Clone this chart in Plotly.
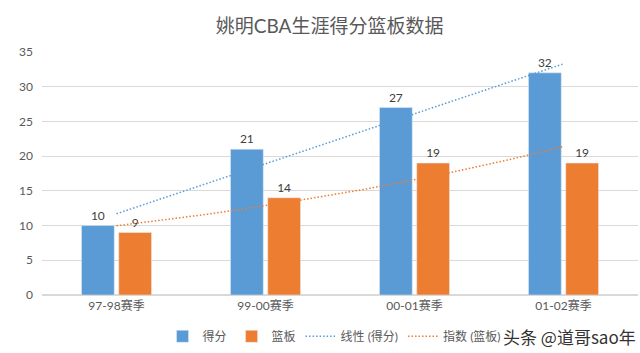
import numpy as np
import plotly.graph_objects as go

categories = ["97-98赛季", "99-00赛季", "00-01赛季", "01-02赛季"]
points = [10, 21, 27, 32]
rebounds = [9, 14, 19, 19]

FONT = "Lato, 'Noto Sans CJK SC', sans-serif"
BLUE = "#5b9bd5"
ORANGE = "#ed7d31"

x = np.arange(len(categories))

# Excel-style trendlines fitted from the data
lin = np.polyfit(x + 1, points, 1)
expf = np.polyfit(x + 1, np.log(rebounds), 1)
xt = np.linspace(0, len(categories) - 1, 60)
lin_y = lin[0] * (xt + 1) + lin[1]
exp_y = np.exp(expf[1]) * np.exp(expf[0] * (xt + 1))

fig = go.Figure()
fig.add_trace(go.Bar(x=x, y=points, name="得分", marker_color=BLUE,
                     text=points, textposition="outside",
                     textfont=dict(size=12, color="#404040"), cliponaxis=False))
fig.add_trace(go.Bar(x=x, y=rebounds, name="篮板", marker_color=ORANGE,
                     text=rebounds, textposition="outside",
                     textfont=dict(size=12, color="#404040"), cliponaxis=False))
fig.add_trace(go.Scatter(x=xt, y=lin_y, mode="lines", name="线性 (得分)",
                         line=dict(color=BLUE, width=1.5, dash="1.5px,2px")))
fig.add_trace(go.Scatter(x=xt, y=exp_y, mode="lines", name="指数 (篮板)",
                         line=dict(color=ORANGE, width=1.5, dash="1.5px,2px")))

fig.update_layout(
    width=640, height=353,
    margin=dict(l=42, r=2, t=52, b=56),
    paper_bgcolor="white", plot_bgcolor="white",
    font=dict(family=FONT, color="#595959", size=12),
    title=dict(text="姚明CBA生涯得分篮板数据", x=0.515, xanchor="center",
               y=0.925, yanchor="middle",
               font=dict(size=19, color="#595959", family=FONT)),
    barmode="group", bargap=0.5, bargroupgap=0.12,
    showlegend=True,
    legend=dict(orientation="h", x=0.49, xanchor="center", y=-0.17,
                yanchor="middle", font=dict(size=12, color="#595959"),
                itemwidth=30, traceorder="normal"),
    xaxis=dict(tickmode="array", tickvals=list(x), ticktext=categories,
               range=[-0.5, len(categories) - 0.5], showgrid=False,
               showline=True, linecolor="#d9d9d9", ticks="",
               tickfont=dict(size=12, color="#595959"), fixedrange=True),
    yaxis=dict(range=[0, 35], dtick=5, showgrid=True, gridcolor="#d9d9d9",
               zeroline=True, zerolinecolor="#d9d9d9", showline=False,
               ticks="", tickfont=dict(size=12, color="#595959"),
               ticklabelstandoff=8),
)

fig.add_annotation(text="头条 @道哥sao年", xref="paper", yref="paper",
                   x=1.0, xanchor="right", y=-0.17, yanchor="middle",
                   showarrow=False,
                   font=dict(size=17, color="#333333", family="'Noto Sans CJK SC', sans-serif"))

fig.write_html("out.html")
